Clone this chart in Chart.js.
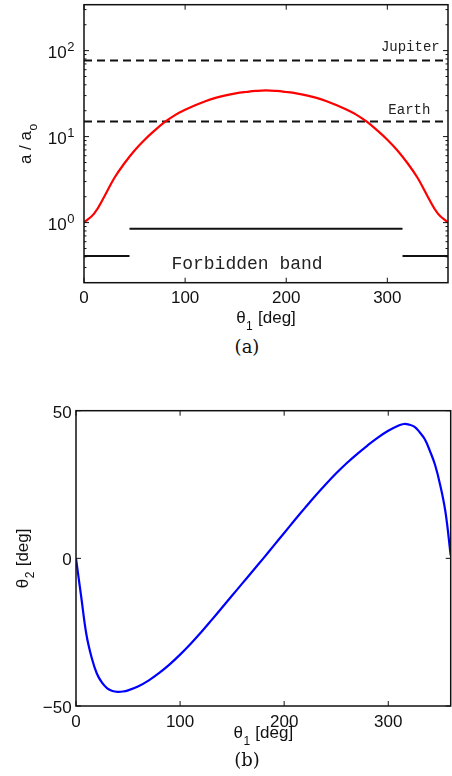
<!DOCTYPE html>
<html>
<head>
<meta charset="utf-8">
<script src="https://cdn.jsdelivr.net/npm/chart.js@4.4.0/dist/chart.umd.min.js"></script>
<style>
  body { margin: 0; background: #fff; width: 452px; height: 776px; position: relative; overflow: hidden; }
  .box { position: absolute; left: 0; width: 452px; }
  .cap { position: absolute; font-family: "DejaVu Serif", serif; font-size: 18px; line-height: 20px; color: #111; transform: translateX(-50%); }
</style>
</head>
<body>
<div class="box" style="top:0;height:330px"><canvas id="chartA"></canvas></div>
<div class="cap" style="left:247px;top:337px">(a)</div>
<div class="box" style="top:380px;height:370px"><canvas id="chartB"></canvas></div>
<div class="cap" style="left:247px;top:750px">(b)</div>
<script>
// (a) a / a_o against theta_1
const thetaA = [0, 10, 20, 30, 40, 50, 60, 70, 80, 90, 100, 110, 120, 130, 140, 150, 160, 170, 180,
                190, 200, 210, 220, 230, 240, 250, 260, 270, 280, 290, 300, 310, 320, 330, 340, 350, 360];
const ratioA = [1.0, 1.27, 2.0, 3.3, 4.9, 6.9, 9.2, 11.8, 14.8, 17.8, 20.5, 23.2, 25.8, 28.2, 30.2, 31.8, 33.0, 34.0, 34.5,
                34.0, 33.0, 31.8, 30.2, 28.2, 25.8, 23.2, 20.5, 17.8, 14.8, 11.8, 9.2, 6.9, 4.9, 3.3, 2.0, 1.27, 1.0];
const planetNames = ['Jupiter', 'Earth'];
const planetRatio = [77, 15];
const planetLabelTheta = [322.7, 321.8];
const planetLabelRatio = [100, 18.2];
const bandEdges = [45, 315];
const bandRatio = [0.85, 0.41];   // inner bar, outer bars
const bandLabel = 'Forbidden band';
const bandLabelAt = [161.2, 0.287];

// (b) theta_2 against theta_1
const thetaB = [0, 5, 10, 15, 20, 25, 30, 35, 40, 45, 50, 60, 70, 80, 90, 100, 110, 120, 130, 140, 150, 160, 170, 180,
                190, 200, 210, 220, 230, 240, 250, 260, 270, 280, 290, 300, 310, 315, 320, 325, 330, 335, 340, 345, 350, 355, 360];
const theta2 = [0, -13, -25.8, -33.6, -39, -42.1, -44, -44.9, -45.2, -45.1, -44.7, -43.3, -41.3, -38.8, -35.9, -32.6, -29, -25.1, -21, -16.8, -12.6, -8.4, -4.2, 0,
                4.3, 8.6, 12.9, 17.1, 21.2, 25.1, 28.8, 32.2, 35.3, 38.2, 40.9, 43.2, 45, 45.5, 45.3, 44.6, 42.8, 40.4, 36.4, 31.6, 24.7, 15.6, 1];

const xTickVals = [0, 100, 200, 300];
const aTickVals = [1, 10, 100];
const aTickExp = ['0', '1', '2'];
const bTickVals = [-50, 0, 50];
const bTickText = ['\u221250', '0', '50'];

const SANS = '"Liberation Sans", Arial, sans-serif';
const INK = '#111';

function subText(ctx, pre, sub, post, cx, base, drop) {
  ctx.font = '17px ' + SANS;
  const w1 = ctx.measureText(pre).width;
  const w3 = ctx.measureText(post).width;
  ctx.font = '12px ' + SANS;
  const w2 = ctx.measureText(sub).width + 1;
  let x = cx - (w1 + w2 + w3) / 2;
  ctx.textAlign = 'left';
  ctx.textBaseline = 'alphabetic';
  ctx.font = '17px ' + SANS;
  ctx.fillText(pre, x, base);
  ctx.font = '12px ' + SANS;
  ctx.fillText(sub, x + w1 + 0.5, base + drop);
  ctx.font = '17px ' + SANS;
  ctx.fillText(post, x + w1 + w2, base);
}

function makeAxes(cfg) {
  return {
    id: 'axes_' + cfg.name,
    afterDraw(chart) {
      const ctx = chart.ctx, a = chart.chartArea;
      const xs = chart.scales.x, ys = chart.scales.y;
      ctx.save();
      ctx.strokeStyle = INK;
      ctx.fillStyle = INK;
      ctx.lineWidth = 1;
      ctx.beginPath();
      xTickVals.forEach(v => {
        const px = xs.getPixelForValue(v);
        ctx.moveTo(px, a.bottom); ctx.lineTo(px, a.bottom - 5);
        ctx.moveTo(px, a.top); ctx.lineTo(px, a.top + 5);
      });
      cfg.yMarks(ys).forEach(m => {
        const py = ys.getPixelForValue(m.v);
        ctx.moveTo(a.left, py); ctx.lineTo(a.left + m.len, py);
        ctx.moveTo(a.right, py); ctx.lineTo(a.right - m.len, py);
      });
      ctx.stroke();
      ctx.lineWidth = 1.5;
      ctx.strokeRect(a.left, a.top, a.right - a.left, a.bottom - a.top);

      ctx.font = '17px ' + SANS;
      ctx.textAlign = 'center';
      ctx.textBaseline = 'alphabetic';
      xTickVals.forEach(v => ctx.fillText(String(v), xs.getPixelForValue(v), a.bottom + 20.5));
      cfg.yLabels(ctx, ys, a);

      subText(ctx, '\u03b8', '1', ' [deg]', (a.left + a.right) / 2, a.bottom + cfg.xTitleGap, 7);

      ctx.save();
      ctx.translate(cfg.yTitleX, (a.top + a.bottom) / 2);
      ctx.rotate(-Math.PI / 2);
      subText(ctx, cfg.yTitle[0], cfg.yTitle[1], cfg.yTitle[2], 0, 0, 6);
      ctx.restore();

      if (cfg.extra) cfg.extra(ctx, xs, ys);
      ctx.restore();
    }
  };
}

const axesA = makeAxes({
  name: 'a',
  xTitleGap: 40,
  yTitleX: 31,
  yTitle: ['a / a', 'o', ''],
  yMarks(ys) {
    const marks = [];
    for (let k = -1; k <= 2; k++) {
      for (let m = 1; m <= 9; m++) {
        const v = m * Math.pow(10, k);
        if (v > ys.min && v < ys.max) marks.push({ v: v, len: m === 1 ? 5 : 2.5 });
      }
    }
    return marks;
  },
  yLabels(ctx, ys, a) {
    aTickVals.forEach((v, i) => {
      const py = ys.getPixelForValue(v);
      ctx.font = '17px ' + SANS;
      ctx.textAlign = 'right';
      ctx.fillText('10', a.left - 17.3, py + 7.5);
      ctx.font = '13px ' + SANS;
      ctx.textAlign = 'left';
      ctx.fillText(aTickExp[i], a.left - 16.8, py + 0.5);
    });
  },
  extra(ctx, xs, ys) {
    ctx.fillStyle = '#222';
    ctx.textAlign = 'center';
    ctx.textBaseline = 'alphabetic';
    ctx.font = '14px "Liberation Mono", "Courier New", monospace';
    planetNames.forEach((n, i) => {
      ctx.fillText(n, xs.getPixelForValue(planetLabelTheta[i]), ys.getPixelForValue(planetLabelRatio[i]));
    });
    ctx.font = '18px "Liberation Mono", "Courier New", monospace';
    ctx.fillText(bandLabel, xs.getPixelForValue(bandLabelAt[0]), ys.getPixelForValue(bandLabelAt[1]));
  }
});

const axesB = makeAxes({
  name: 'b',
  xTitleGap: 32,
  yTitleX: 28.3,
  yTitle: ['\u03b8', '2', ' [deg]'],
  yMarks() { return bTickVals.map(v => ({ v: v, len: 5 })); },
  yLabels(ctx, ys, a) {
    ctx.font = '17px ' + SANS;
    ctx.textAlign = 'right';
    bTickVals.forEach((v, i) => {
      ctx.fillText(bTickText[i], a.left - 4.3, ys.getPixelForValue(v) + 7);
    });
  }
});

function pairs(xs, ys) { return xs.map((x, i) => ({ x: x, y: ys[i] })); }
function seg(x0, x1, y) { return [{ x: x0, y: y }, { x: x1, y: y }]; }

const common = {
  responsive: true,
  maintainAspectRatio: false,
  animation: false,
  events: [],
  plugins: { legend: { display: false }, tooltip: { enabled: false } }
};

new Chart(document.getElementById('chartA'), {
  type: 'line',
  data: {
    datasets: [
      { data: pairs(thetaA, ratioA), borderColor: '#ff0000', borderWidth: 2.2, pointRadius: 0, tension: 0.4 },
      { data: seg(0, 360, planetRatio[0]), borderColor: INK, borderWidth: 2, borderDash: [8, 5], pointRadius: 0 },
      { data: seg(0, 360, planetRatio[1]), borderColor: INK, borderWidth: 2, borderDash: [8, 5], pointRadius: 0 },
      { data: seg(bandEdges[0], bandEdges[1], bandRatio[0]), borderColor: INK, borderWidth: 2, pointRadius: 0 },
      { data: seg(0, bandEdges[0], bandRatio[1]), borderColor: INK, borderWidth: 2, pointRadius: 0 },
      { data: seg(bandEdges[1], 360, bandRatio[1]), borderColor: INK, borderWidth: 2, pointRadius: 0 }
    ]
  },
  options: Object.assign({}, common, {
    layout: { padding: { left: 84, right: 4, top: 4.7, bottom: 47.3 } },
    scales: {
      x: { type: 'linear', min: 0, max: 360, display: false },
      y: { type: 'logarithmic', min: 0.2, max: 342, display: false }
    }
  }),
  plugins: [axesA]
});

new Chart(document.getElementById('chartB'), {
  type: 'line',
  data: {
    datasets: [
      { data: pairs(thetaB, theta2), borderColor: '#0000ff', borderWidth: 2.2, pointRadius: 0, tension: 0.4 }
    ]
  },
  options: Object.assign({}, common, {
    layout: { padding: { left: 76, right: 1.3, top: 30.7, bottom: 44 } },
    scales: {
      x: { type: 'linear', min: 0, max: 360, display: false },
      y: { type: 'linear', min: -50, max: 50, display: false }
    }
  }),
  plugins: [axesB]
});
</script>
</body>
</html>
